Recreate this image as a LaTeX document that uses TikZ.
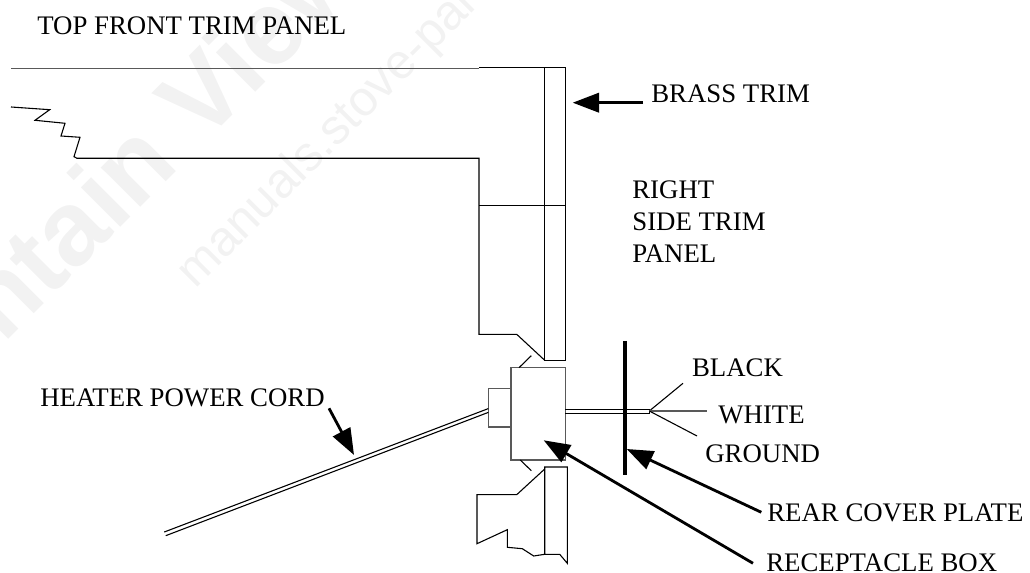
\documentclass[tikz,border=0pt]{standalone}
\usepackage{fontspec}
\setmainfont{Liberation Serif}
\newfontfamily\markfont{Liberation Sans}
\usetikzlibrary{arrows.meta}
\tikzset{
  part/.style={black, line width=0.62pt},
  faint/.style={black!65, line width=0.62pt},
  pointer/.style={black, line width=1.6pt, -{Triangle[length=15pt, width=11pt]}},
  caption/.style={anchor=base west, font=\fontsize{15.25}{18.2}\selectfont},
  watermark/.style={black!5, anchor=base west, rotate=45}
}
\begin{document}
\begin{tikzpicture}[x=0.02cm, y=0.02cm]
\tikzstyle{every node}+=[inner sep=0pt]
\useasboundingbox (0,0) rectangle (1030,-573);
\clip (0,0) rectangle (1030,-573);
% watermark
\node [watermark, font=\markfont\bfseries\fontsize{60}{60}\selectfont] (markbig) at (-150,-498) {Mountain View};
\node [watermark, font=\markfont\fontsize{28}{28}\selectfont] (marksmall) at (195,-290) {manuals.stove-par};
% top panel and brass trim
\draw [faint] (11,-68.3) -- (479,-68.3);
\draw [part] (479,-67.8) -- (565.3,-67.8) -- (565.3,-360.3) -- (544.7,-360.3) -- (544.7,-67.8);
\draw [part] (11,-107) -- (49.7,-109.7) -- (35,-120.3) -- (65,-123.3) -- (61,-136) -- (80,-137.3) -- (74,-156.7) -- (77,-158.3) -- (479,-158.3) -- (479,-334.3) -- (516.7,-334.3) -- (544.7,-360.3);
\draw [part] (479,-205.3) -- (565.3,-205.3);
% receptacle box
\draw [faint] (511,-367.7) rectangle (565.3,-460);
\draw [faint] (488.3,-388.3) rectangle (511,-427);
\draw [part] (519,-367.7) -- (531.3,-355.7);
\draw [part] (520.3,-460) -- (531.3,-470.7);
% lower trim
\draw [part] (544.7,-467) -- (567.3,-467) -- (567.3,-563.3) -- (559.7,-554.3) -- (544.7,-554.3) -- cycle;
\draw [part] (544.7,-469) -- (516.7,-494.7) -- (477,-494.7) -- (477,-543.7) -- (507.3,-529.7) -- (507.3,-547.3) -- (522.3,-548.7) -- (533.7,-556) -- (544.7,-554.3);
% cord
\draw [part] (488.3,-408.6) -- (164.3,-532);
\draw [part] (488.3,-412.4) -- (165.7,-535.7);
% wires and rear plate
\coordinate (fan) at (649.3,-411);
\draw [part] (565.3,-409.3) -- (649.3,-409.3);
\draw [part] (565.3,-413.3) -- (649.3,-413.3) -- (649.3,-409.3);
\draw [part] (fan) -- (683,-383.3);
\draw [faint] (fan) -- (707,-411);
\draw [part] (fan) -- (697,-436);
\draw [black, line width=2.1pt] (625,-341) -- (625,-475);
% labels
\node [caption] (toppanel) at (37,-35) {TOP FRONT TRIM PANEL};
\node [caption] (brass) at (651,-103) {BRASS TRIM};
\node [caption, anchor=north west, align=left] (sidepanel) at (632,-180) {RIGHT\\SIDE TRIM\\PANEL};
\node [caption] (black) at (691.7,-376.7) {BLACK};
\node [caption] (white) at (718,-424) {WHITE};
\node [caption] (ground) at (705,-462.5) {GROUND};
\node [caption] (cord) at (40,-406.7) {HEATER POWER CORD};
\node [caption] (plate) at (767,-521.7) {REAR COVER PLATE};
\node [caption] (box) at (766,-571.7) {RECEPTACLE BOX};
% arrows
\coordinate (brasstail) at (643,-102.7);
\coordinate (brasstip) at (572.7,-102.7);
\coordinate (cordtail) at (329,-408.3);
\coordinate (cordtip) at (354,-455);
\coordinate (platetail) at (761.3,-512.3);
\coordinate (platetip) at (626.7,-449);
\coordinate (boxtail) at (753,-563.3);
\coordinate (boxtip) at (543.7,-440.3);
\draw [pointer] (brasstail) -- (brasstip);
\draw [pointer] (cordtail) -- (cordtip);
\draw [pointer] (platetail) -- (platetip);
\draw [pointer] (boxtail) -- (boxtip);
\end{tikzpicture}
\end{document}
